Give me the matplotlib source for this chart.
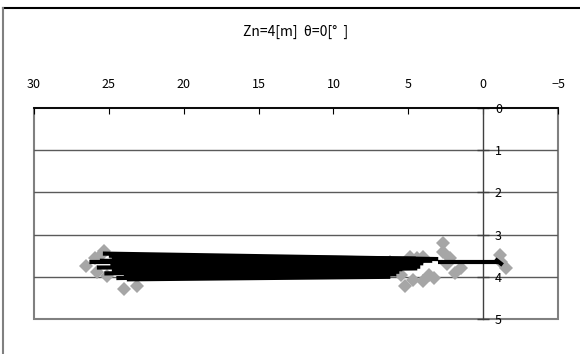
import matplotlib.pyplot as plt
from matplotlib.lines import Line2D
from matplotlib.patches import Rectangle

plt.rcParams['font.family'] = ['Noto Sans CJK JP', 'DejaVu Sans']

title = 'Zn=4[m]  θ=0[°  ]'

# measured points (grey diamonds)
pts_x = [25.3, 25.5, 26.5, 25.8, 25.1, 24.0, 23.1, 24.6, 25.9,
         6.2, 4.9, 4.4, 4.0, 2.7, 2.7, 2.2, 1.5, 5.2, 4.7, 4.0, 3.3, 1.9, 3.6, 5.5, 2.4,
         -1.1, -1.5, -1.2]
pts_y = [3.38, 3.48, 3.74, 3.88, 3.97, 4.30, 4.21, 3.60, 3.55,
         3.65, 3.52, 3.55, 3.52, 3.20, 3.42, 3.55, 3.78, 4.22, 4.07, 4.10, 4.03, 3.90, 3.95, 3.95, 3.70,
         3.48, 3.80, 3.65]

# fitted paths (black), start -> end
path_x0 = [26.3, 25.4, 25.0, 24.8, 25.6, 24.9, 25.8, 24.8, 25.3, 24.0, 24.5, 23.8, 3.0, -0.8]
path_y0 = [3.65, 3.45, 3.50, 3.56, 3.62, 3.70, 3.78, 3.85, 3.92, 3.98, 4.03, 4.06, 3.64, 3.58]
path_x1 = [3.4, 3.0, 4.5, 4.8, 4.0, 5.0, 4.2, 5.4, 4.4, 5.6, 5.8, 6.2, -1.0, -1.3]
path_y1 = [3.62, 3.58, 3.57, 3.62, 3.68, 3.72, 3.76, 3.82, 3.80, 3.88, 3.94, 4.00, 3.64, 3.72]

x_ticks = [30, 25, 20, 15, 10, 5, 0, -5]
y_ticks = [0, 1, 2, 3, 4, 5]

W, H = 580, 354
fig = plt.figure(figsize=(W / 100, H / 100), dpi=100)
ax = fig.add_axes([34 / W, 1 - 319 / H, (558 - 34) / W, (319 - 108) / H])

# outer chart border
fig.add_artist(Line2D([3 / W, 1], [1 - 8 / H, 1 - 8 / H], color='black', lw=1.5))
fig.add_artist(Line2D([3 / W, 3 / W], [0, 1 - 8 / H], color='#808080', lw=1.5))

ax.plot(pts_x, pts_y, linestyle='none', marker='D', ms=7, color='#a6a6a6',
        markeredgewidth=0, zorder=3)
for x0, y0, x1, y1 in zip(path_x0, path_y0, path_x1, path_y1):
    ax.plot([x0, x1], [y0, y1], color='black', lw=3, solid_capstyle='butt', zorder=4)

ax.set_xlim(30, -5)
ax.set_ylim(5, 0)

for y in y_ticks[1:-1]:
    ax.axhline(y, color='#5a5a5a', lw=1, zorder=1)

for s in ['left', 'bottom']:
    ax.spines[s].set_visible(False)
ax.spines['top'].set_color('black')
ax.spines['top'].set_linewidth(1.3)
ax.spines['right'].set_position(('data', 0))
ax.spines['right'].set_color('#404040')
ax.spines['right'].set_linewidth(1)
ax.add_patch(Rectangle((0, 0), 1, 1, transform=ax.transAxes, fill=False,
                       ec='#808080', lw=1.5, zorder=0, clip_on=False))

ax.xaxis.tick_top()
ax.set_xticks(x_ticks)
ax.set_xticklabels([str(v) if v >= 0 else '−' + str(-v) for v in x_ticks])
ax.tick_params(axis='x', direction='in', length=4, pad=12, labelsize=9,
               color='black')

ax.yaxis.tick_right()
ax.set_yticks(y_ticks)
ax.tick_params(axis='y', direction='inout', length=9, width=1, pad=4,
               labelsize=9, color='#404040')

fig.text(296 / W, 1 - 32 / H, title, ha='center', va='center', fontsize=10)

fig.savefig('out.png', dpi=100)
